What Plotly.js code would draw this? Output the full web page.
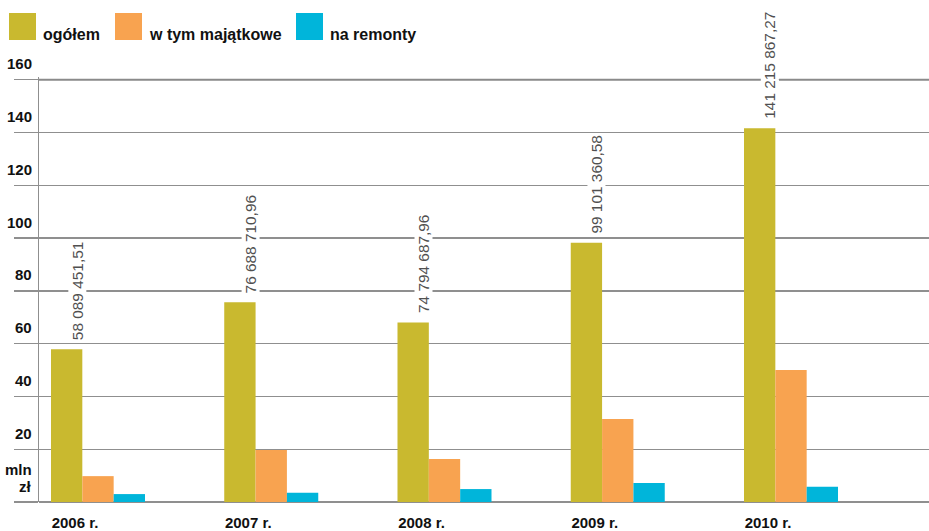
<!DOCTYPE html>
<html>
<head>
<meta charset="utf-8">
<script src="https://cdn.plot.ly/plotly-3.0.1.min.js"></script>
<style>html,body{margin:0;padding:0;background:#fff;}#chart{width:929px;height:531px;}</style>
</head>
<body>
<div id="chart"></div>
<script>
// ---- data ----
const categories = ['2006 r.', '2007 r.', '2008 r.', '2009 r.', '2010 r.'];
const seriesNames = ['ogółem', 'w tym majątkowe', 'na remonty'];
const ogolem = [57.9, 75.7, 68.0, 98.2, 141.6];
const majatkowe = [9.8, 19.7, 16.3, 31.4, 50.0];
const remonty = [3.0, 3.5, 4.9, 7.2, 5.8];
const valueLabels = ['58 089 451,51', '76 688 710,96', '74 794 687,96', '99 101 360,58', '141 215 867,27'];
const yTickVals = [20, 40, 60, 80, 100, 120, 140, 160];
const yTickText = ['20', '40', '60', '80', '100', '120', '140', '160'];
const unitLines = ['mln', 'zł'];
const yMax = 160;

// ---- styles ----
const colors = ['#C9B92F', '#F8A350', '#00B5DA'];
const gridColor = '#8f8f8f';
const FONT = 'Liberation Sans, Arial, Helvetica, sans-serif';
const xRange = [-0.3405, 4.7965];
const pxPerCat = 173.25;

const traces = [ogolem, majatkowe, remonty].map((vals, i) => ({
  type: 'bar',
  name: seriesNames[i],
  x: categories,
  y: vals,
  marker: {color: colors[i], line: {width: 0}},
  showlegend: false,
  hoverinfo: 'skip'
}));

const annotations = [];
categories.forEach((c, i) => {
  annotations.push({
    x: c, y: ogolem[i], xref: 'x', yref: 'y',
    text: valueLabels[i], showarrow: false, textangle: -90,
    xanchor: 'center', yanchor: 'bottom', xshift: -21, yshift: 8,
    bgcolor: '#ffffff', borderpad: 0,
    font: {family: FONT, size: 15.4, color: '#505050'}
  });
});
yTickVals.forEach((v, i) => {
  annotations.push({
    x: 0, y: v, xref: 'paper', yref: 'y', text: yTickText[i], showarrow: false,
    xanchor: 'right', yanchor: 'middle', xshift: -5, yshift: 16,
    font: {family: FONT, size: 15, color: '#111', weight: 'bold'}
  });
});
unitLines.forEach((t, i) => {
  annotations.push({
    x: 0, y: 0, xref: 'paper', yref: 'y', text: t, showarrow: false,
    xanchor: 'right', yanchor: 'middle', xshift: -5, yshift: 33 - 17 * i,
    font: {family: FONT, size: 15, color: '#111', weight: 'bold'}
  });
});
const legendX = [-30, 76, 257];
const shapes = [];
seriesNames.forEach((n, i) => {
  shapes.push({
    type: 'rect', xref: 'paper', yref: 'paper', xsizemode: 'pixel', ysizemode: 'pixel',
    xanchor: 0, yanchor: 1, x0: legendX[i], x1: legendX[i] + 27, y0: 37, y1: 64,
    fillcolor: colors[i], line: {width: 0}
  });
  annotations.push({
    x: 0, y: 1, xref: 'paper', yref: 'paper', text: n, showarrow: false,
    xanchor: 'left', yanchor: 'middle', xshift: legendX[i] + 32, yshift: 42.5,
    font: {family: FONT, size: 16, color: '#111', weight: 'bold'}
  });
});
// top gridline (with its outside tick), broken around the 2010 value label
const last = categories.length - 1;
const gapL = last - 30 / pxPerCat, gapR = last - 12 / pxPerCat;
[[xRange[0] - 24 / pxPerCat, gapL], [gapR, xRange[1]]].forEach(seg => {
  shapes.push({
    type: 'line', xref: 'x', yref: 'y',
    x0: seg[0], x1: seg[1], y0: yMax, y1: yMax, layer: 'above',
    line: {color: '#8a8a8a', width: 2}
  });
});

const layout = {
  width: 929, height: 531,
  margin: {l: 39, r: 0, t: 77, b: 29, pad: 0},
  paper_bgcolor: '#ffffff', plot_bgcolor: '#ffffff',
  barmode: 'group', bargap: 0.4574, bargroupgap: 0,
  showlegend: false,
  xaxis: {
    type: 'category', range: xRange,
    showgrid: false, showline: false, zeroline: false, ticks: '',
    tickfont: {family: FONT, size: 15, color: '#111', weight: 'bold'},
    ticklabelshift: -23, ticklabelstandoff: 10, fixedrange: true
  },
  yaxis: {
    range: [0, 161], tickvals: [0].concat(yTickVals), showticklabels: false,
    ticks: 'outside', ticklen: 24, tickwidth: 1.4, tickcolor: gridColor,
    showgrid: true, gridcolor: gridColor, gridwidth: 1.4,
    zeroline: true, zerolinecolor: gridColor, zerolinewidth: 1.6,
    showline: true, linecolor: gridColor, linewidth: 1.4, fixedrange: true
  },
  annotations: annotations,
  shapes: shapes
};

Plotly.newPlot('chart', traces, layout, {displayModeBar: false, staticPlot: true});
</script>
</body>
</html>
